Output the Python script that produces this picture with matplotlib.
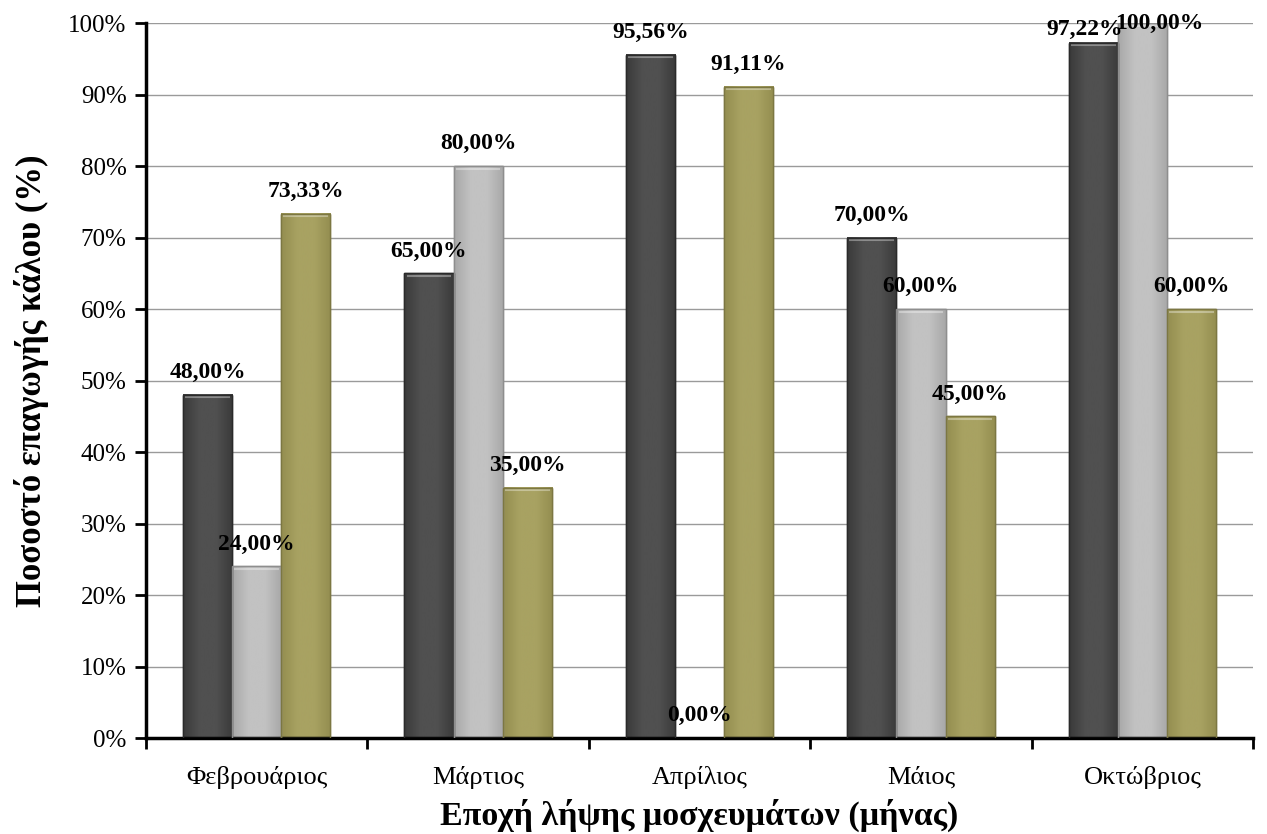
import numpy as np
import matplotlib
matplotlib.use("Agg")
import matplotlib.pyplot as plt
from matplotlib.colors import LinearSegmentedColormap
from matplotlib.ticker import FixedLocator, PercentFormatter

months = ["Φεβρουάριος", "Μάρτιος", "Απρίλιος", "Μάιος", "Οκτώβριος"]
series_a = [48.00, 65.00, 95.56, 70.00, 97.22]
series_b = [24.00, 80.00, 0.00, 60.00, 100.00]
series_c = [73.33, 35.00, 91.11, 45.00, 60.00]

# label nudges (points) where labels collide with the top of the plot
label_shift = {(0, 4): (-6, -6), (1, 4): (12, -16)}

plt.rcParams["font.family"] = ["Liberation Serif", "DejaVu Serif"]

fig = plt.figure(figsize=(12.67, 8.34), dpi=100)
ax = fig.add_axes([0.1152, 0.1151, 0.8738, 0.8573])

x = np.arange(len(months))
w = 0.222
styles = [
    ("#3a3a3a", "#505050", "#2a2a2a"),
    ("#a8a8a8", "#c2c2c2", "#8e8e8e"),
    ("#948e50", "#a8a262", "#7c7742"),
]

ax.set_xlim(-0.5, len(months) - 0.5)
ax.set_ylim(0, 100)

for s, vals in enumerate([series_a, series_b, series_c]):
    edge, mid, line = styles[s]
    bars = ax.bar(x + (s - 1) * w, vals, w, color=mid, edgecolor=line,
                  linewidth=1.0, zorder=2)
    cmap = LinearSegmentedColormap.from_list("g", [edge, mid, mid, edge])
    grad = np.linspace(0, 1, 64).reshape(1, -1)
    for i, b in enumerate(bars):
        x0, h = b.get_x(), b.get_height()
        if h > 0:
            ax.imshow(grad, extent=[x0, x0 + b.get_width(), 0, h],
                      aspect="auto", cmap=cmap, zorder=2.5,
                      interpolation="bicubic")
            ax.plot([x0 + 0.01, x0 + b.get_width() - 0.01], [h - 0.35, h - 0.35],
                    color="white", alpha=0.35, lw=1.5, zorder=2.6,
                    solid_capstyle="butt")
            ax.bar(b.get_x() + b.get_width() / 2, h, b.get_width(), fill=False,
                   edgecolor=line, linewidth=1.0, zorder=2.7)
        dx, dy = label_shift.get((s, i), (0, 0))
        ax.annotate(f"{vals[i]:.2f}%".replace(".", ","),
                    (b.get_x() + b.get_width() / 2, h),
                    xytext=(dx, 16 + dy), textcoords="offset points",
                    ha="center", va="center", fontsize=17, fontweight="bold",
                    zorder=4)

ax.set_xlim(-0.5, len(months) - 0.5)
ax.set_ylim(0, 100)

ax.yaxis.set_major_locator(FixedLocator(np.arange(0, 101, 10)))
ax.yaxis.set_major_formatter(PercentFormatter(decimals=0))
ax.grid(axis="y", color="#9a9a9a", linewidth=1.0, zorder=0)
ax.set_axisbelow(True)

ax.set_xticks(np.arange(-0.5, len(months)), labels=[""] * (len(months) + 1))
ax.set_xticks(x, labels=months, minor=True)
ax.tick_params(axis="x", which="major", direction="out", length=8, width=2)
ax.tick_params(axis="x", which="minor", length=0, pad=20, labelsize=19)
ax.tick_params(axis="y", direction="out", length=8, width=2, labelsize=18, pad=6)

for side in ["top", "right"]:
    ax.spines[side].set_visible(False)
for side in ["left", "bottom"]:
    ax.spines[side].set_linewidth(2.5)

ax.set_ylabel("Ποσοστό επαγωγής κάλου (%)", fontsize=25, fontweight="bold",
              labelpad=14)
ax.set_xlabel("Εποχή λήψης μοσχευμάτων (μήνας)", fontsize=24.5, fontweight="bold",
              labelpad=7)

fig.savefig("out.png", dpi=100)
